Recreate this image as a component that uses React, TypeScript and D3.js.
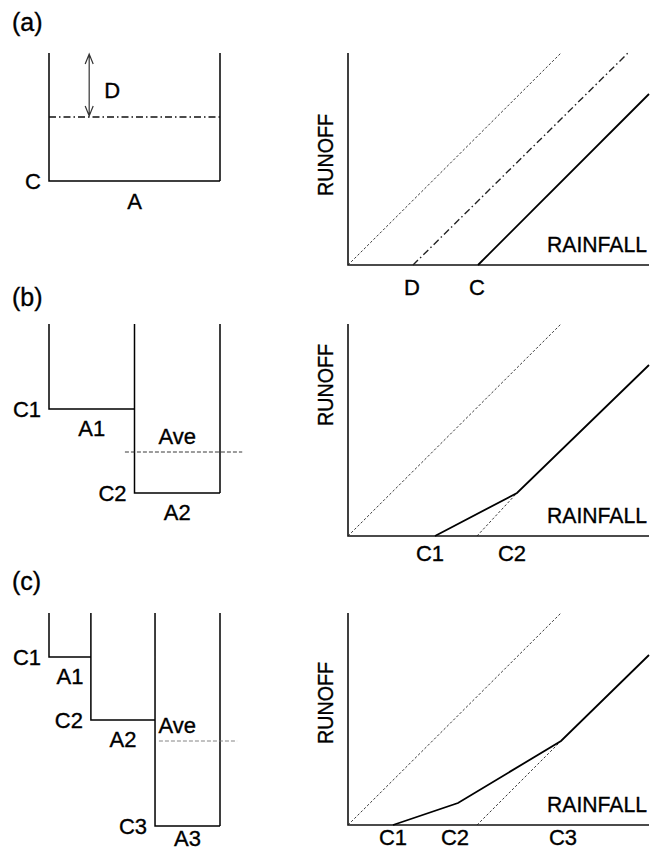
import React from "react";
import * as d3 from "d3";

// ---------- data ----------
const panelTags = ["(a)", "(b)", "(c)"];

// tank schematics: fractional areas and storage depths (same units as rainfall)
const tankAreasA = [1];
const tankDepthsA = [128];
const tankCapLabelsA = ["C"];
const tankAreaLabelsA = ["A"];
const depthD = 64;

const tankAreasB = [0.5, 0.5];
const tankDepthsB = [85, 169];
const tankCapLabelsB = ["C1", "C2"];
const tankAreaLabelsB = ["A1", "A2"];
const aveDepthB = 128;
const aveSpanB = [0.444, 1.13];

const tankAreasC = [0.245, 0.375, 0.38];
const tankDepthsC = [44, 107, 213];
const tankCapLabelsC = ["C1", "C2", "C3"];
const tankAreaLabelsC = ["A1", "A2", "A3"];
const aveDepthC = 128;
const aveSpanC = [0.643, 1.1];

// runoff vs rainfall curves: [rainfall, runoff]
const potentialRunoff: [number, number][] = [[0, 0], [213, 212]];

const aDashDot: [number, number][] = [[65, 0], [280, 212]];
const aSolid: [number, number][] = [[130, 0], [301, 171]];
const aTickLabels = ["D", "C"];
const aTickValues = [64, 129];

const bDashed: [number, number][] = [[129, 0], [169, 43]];
const bSolid: [number, number][] = [[87, 0], [169, 43], [301, 171]];
const bTickLabels = ["C1", "C2"];
const bTickValues = [82, 164];

const cDashed: [number, number][] = [[129, 0], [213, 84]];
const cSolid: [number, number][] = [[45, 0], [110, 22], [213, 84], [301, 170]];
const cTickLabels = ["C1", "C2", "C3"];
const cTickValues = [45, 107, 215];

const axisTitleX = "RAINFALL";
const axisTitleY = "RUNOFF";

// ---------- layout ----------
const W = 661;
const H = 852;
const FONT = "'Liberation Sans', Arial, Helvetica, sans-serif";
const FS = 22;
const panelTops = [53, 324, 613];
const panelHeight = 212;
const tagBaselines = [31, 306, 590];
const runoffCenters = [155, 385, 703];
const tickLabelOffsets = [22, 17, 12];
const areaLabelOffsets = [28, 27, 20];

const xRain = d3.scaleLinear().domain([0, 301]).range([348, 649]);
const xTank = d3.scaleLinear().domain([0, 1]).range([49, 220]);

const DOT = "2.5,2";
const DASHDOT = "7,3,1.5,3";

type Curve = { pts: [number, number][]; kind: "solid" | "dot" | "dashdot" };

function RunoffPanel({ i, curves, tickLabels, tickValues }: { i: number; curves: Curve[]; tickLabels: string[]; tickValues: number[] }) {
  const top = panelTops[i];
  const bottom = top + panelHeight;
  const y = d3.scaleLinear().domain([0, 212]).range([bottom, top]);
  const line = d3.line<[number, number]>().x((d) => xRain(d[0])).y((d) => y(d[1]));
  return (
    <g>
      <path d={`M${xRain(0)},${top}V${bottom}H${xRain(301)}`} fill="none" stroke="#111" strokeWidth={1.6} />
      {curves.map((c, k) => (
        <path
          key={k}
          d={line(c.pts) || ""}
          fill="none"
          stroke={c.kind === "solid" ? "#000" : "#222"}
          strokeWidth={c.kind === "solid" ? 1.8 : c.kind === "dashdot" ? 1.4 : 0.9}
          strokeDasharray={c.kind === "dot" ? DOT : c.kind === "dashdot" ? DASHDOT : undefined}
        />
      ))}
      {tickLabels.map((t, k) => (
        <text key={t} x={xRain(tickValues[k])} y={bottom + tickLabelOffsets[i] + 8} textAnchor="middle">
          {t}
        </text>
      ))}
      <text x={xRain(301) - 2} y={bottom - 13} textAnchor="end" textLength={100} lengthAdjust="spacingAndGlyphs">
        {axisTitleX}
      </text>
      <text
        transform={`translate(333,${runoffCenters[i]}) rotate(-90)`}
        textAnchor="middle"
        textLength={82}
        lengthAdjust="spacingAndGlyphs"
      >
        {axisTitleY}
      </text>
    </g>
  );
}

function Tank({ i, areas, depths, capLabels, areaLabels }: { i: number; areas: number[]; depths: number[]; capLabels: string[]; areaLabels: string[] }) {
  const top = panelTops[i];
  const yT = d3.scaleLinear().domain([0, 213]).range([top, top + 213]);
  const starts = areas.map((_, k) => d3.sum(areas.slice(0, k)));
  const ends = areas.map((_, k) => d3.sum(areas.slice(0, k + 1)));
  let d = "";
  areas.forEach((_, k) => {
    d += `M${xTank(starts[k])},${yT(0)}V${yT(depths[k])}H${xTank(ends[k])}`;
  });
  d += `M${xTank(1)},${yT(0)}V${yT(depths[depths.length - 1])}`;
  return (
    <g>
      <path d={d} fill="none" stroke="#000" strokeWidth={1.5} />
      {areas.map((_, k) => (
        <g key={k}>
          <text x={xTank(starts[k]) - 8} y={yT(depths[k]) + 8} textAnchor="end">
            {capLabels[k]}
          </text>
          <text
            x={(xTank(starts[k]) + xTank(ends[k])) / 2}
            y={yT(depths[k]) + (k === areas.length - 1 ? areaLabelOffsets[i] : 27)}
            textAnchor="middle"
          >
            {areaLabels[k]}
          </text>
        </g>
      ))}
    </g>
  );
}

function AveLine({ i, depth, span, color }: { i: number; depth: number; span: number[]; color: string }) {
  const top = panelTops[i];
  const yT = d3.scaleLinear().domain([0, 213]).range([top, top + 213]);
  return (
    <g>
      <line x1={xTank(span[0])} x2={xTank(span[1])} y1={yT(depth)} y2={yT(depth)} stroke={color} strokeWidth={0.9} strokeDasharray="4,2" />
      <text x={xTank(0.75)} y={yT(depth) - 8} textAnchor="middle">
        Ave
      </text>
    </g>
  );
}

export default function App() {
  const topA = panelTops[0];
  const yA = d3.scaleLinear().domain([0, 213]).range([topA, topA + 213]);
  const arrowX = xTank(0.235);
  const dLevel = yA(depthD);
  return (
    <svg
      width={W}
      height={H}
      style={{ position: "absolute", left: 0, top: 0, background: "#fff" }}
      fontFamily={FONT}
      fontSize={FS}
      fill="#000"
    >
      <rect width={W} height={H} fill="#fff" />
      <g fontSize={25}>
        {panelTags.map((t, k) => (
          <text key={t} x={12} y={tagBaselines[k]}>
            {t}
          </text>
        ))}
      </g>

      {/* (a) */}
      <g>
        <Tank i={0} areas={tankAreasA} depths={tankDepthsA} capLabels={tankCapLabelsA} areaLabels={tankAreaLabelsA} />
        <line x1={xTank(0)} x2={xTank(1)} y1={dLevel} y2={dLevel} stroke="#111" strokeWidth={1.3} strokeDasharray={DASHDOT} />
        <path
          d={`M${arrowX},${yA(0) + 1}V${dLevel - 1}M${arrowX - 4},${yA(0) + 11}L${arrowX},${yA(0) + 1}L${arrowX + 4},${yA(0) + 11}M${arrowX - 4},${dLevel - 11}L${arrowX},${dLevel - 1}L${arrowX + 4},${dLevel - 11}`}
          fill="none"
          stroke="#333"
          strokeWidth={1.2}
        />
        <text x={arrowX + 15} y={yA(37) + 8}>
          D
        </text>
      </g>
      <RunoffPanel
        i={0}
        curves={[
          { pts: potentialRunoff, kind: "dot" },
          { pts: aDashDot, kind: "dashdot" },
          { pts: aSolid, kind: "solid" },
        ]}
        tickLabels={aTickLabels}
        tickValues={aTickValues}
      />

      {/* (b) */}
      <Tank i={1} areas={tankAreasB} depths={tankDepthsB} capLabels={tankCapLabelsB} areaLabels={tankAreaLabelsB} />
      <AveLine i={1} depth={aveDepthB} span={aveSpanB} color="#222" />
      <RunoffPanel
        i={1}
        curves={[
          { pts: potentialRunoff, kind: "dot" },
          { pts: bDashed, kind: "dot" },
          { pts: bSolid, kind: "solid" },
        ]}
        tickLabels={bTickLabels}
        tickValues={bTickValues}
      />

      {/* (c) */}
      <Tank i={2} areas={tankAreasC} depths={tankDepthsC} capLabels={tankCapLabelsC} areaLabels={tankAreaLabelsC} />
      <AveLine i={2} depth={aveDepthC} span={aveSpanC} color="#777" />
      <RunoffPanel
        i={2}
        curves={[
          { pts: potentialRunoff, kind: "dot" },
          { pts: cDashed, kind: "dot" },
          { pts: cSolid, kind: "solid" },
        ]}
        tickLabels={cTickLabels}
        tickValues={cTickValues}
      />
      <style>{`text { stroke: #000; stroke-width: 0.35px; }`}</style>
    </svg>
  );
}
